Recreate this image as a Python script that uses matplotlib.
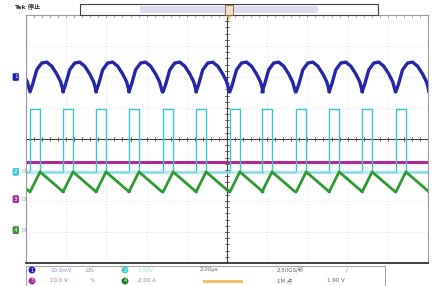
import numpy as np
import matplotlib
matplotlib.use("Agg")
import matplotlib.pyplot as plt
from matplotlib.patches import Rectangle

plt.rcParams['font.family'] = ['DejaVu Sans', 'Noto Sans CJK SC']

# values, in divisions (10 x 8 grid, 0 = centre line)
edges = [-0.73, 0.10, 0.92, 1.74, 2.56, 3.41, 4.23, 5.07, 5.87, 6.72, 7.54, 8.36, 9.20, 10.02]
period = 0.83
pulse_w = 0.25
cyan_hi = 0.97
cyan_lo = -1.06

# one period of ch1 (blue) and ch4 (green), phase 0 = cyan rising edge
blue_phase = [0.0, 0.08, 0.2, 0.35, 0.5, 0.65, 0.8, 0.92, 1.0]
blue_level = [1.52, 1.77, 2.23, 2.45, 2.48, 2.35, 2.10, 1.84, 1.52]
green_phase = [0.0, 0.30, 1.0]
green_level = [-1.71, -1.06, -1.71]
magenta_level = -0.74

marker_y = {'1': 2.0, '2': -1.06, '3': -1.94, '4': -2.94}
marker_col = {'1': '#2020b0', '2': '#40c8d8', '3': '#a03090', '4': '#3a8a3a'}

W, H = 438, 286
fig = plt.figure(figsize=(W / 100, H / 100), dpi=100)
fig.patch.set_facecolor('white')

# main graticule
x0, x1, yt, yb = 26, 428, 15, 263
ax = fig.add_axes([x0 / W, 1 - yb / H, (x1 - x0) / W, (yb - yt) / H])
ax.set_xlim(0, 10)
ax.set_ylim(-4, 4)
ax.set_xticks([])
ax.set_yticks([])
for s in ax.spines.values():
    s.set_color('#9a9a9a')
    s.set_linewidth(0.8)
ax.spines['bottom'].set_color('#202020')
ax.spines['bottom'].set_linewidth(1.2)
for gx in range(1, 10):
    ax.axvline(gx, color='#c8c8c8', lw=0.5, ls=(0, (1, 3)))
for gy in range(-3, 4):
    ax.axhline(gy, color='#c8c8c8', lw=0.5, ls=(0, (1, 3)))
ax.axvline(5, color='#404040', lw=0.8)
ax.axhline(0, color='#404040', lw=0.8)
for t in np.arange(0, 10.01, 0.2):
    ax.plot([t, t], [-0.06, 0.06], color='#404040', lw=0.5)
    ax.plot([t, t], [3.94, 4.0], color='#808080', lw=0.5)
for t in np.arange(-4, 4.01, 0.2):
    ax.plot([4.95, 5.05], [t, t], color='#404040', lw=0.5)

# traces
bx, by, gx_, gy_, cx, cy = [], [], [], [], [], []
for e in edges:
    bx += [e + p * period for p in blue_phase]
    by += blue_level
    gx_ += [e + p * period for p in green_phase]
    gy_ += green_level
    cx += [e, e, e + pulse_w, e + pulse_w, e + period]
    cy += [cyan_lo, cyan_hi, cyan_hi, cyan_lo, cyan_lo]

ax.plot([0, 10], [magenta_level, magenta_level], color='#b02890', lw=2.2)
ax.plot(cx, cy, color='#38c4d4', lw=1.0)
ax.plot([0, 10], [cyan_lo, cyan_lo], color='#9adfe8', lw=2.5, alpha=0.6)
ax.plot(gx_, gy_, color='#2f9a34', lw=2.0)
ax.plot(bx, by, color='#2626a8', lw=2.4)

# channel ground markers on the left edge
for k, v in marker_y.items():
    yy = 1 - (139 - v * 31) / H
    fig.text(14 / W, yy, k, fontsize=4, color='white', ha='left', va='center',
             bbox=dict(boxstyle='round,pad=0.25', fc=marker_col[k], ec='none'))
    fig.text(22 / W, yy, 'Ch' if k != '1' else '', fontsize=3.5, color='#909090',
             va='center')

# top bar
fig.text(14 / W, 1 - 7 / H, 'Tek 停止', fontsize=4.5, color='#303030',
         va='center', weight='bold')
fig.patches.append(Rectangle((80 / W, 1 - 15 / H), 298 / W, 11 / H,
                             transform=fig.transFigure, fc='white', ec='#404040', lw=0.8))
fig.patches.append(Rectangle((140 / W, 1 - 13 / H), 178 / W, 7 / H,
                             transform=fig.transFigure, fc='#dcdcf0', ec='none'))
fig.patches.append(Rectangle((225 / W, 1 - 15 / H), 8 / W, 10 / H,
                             transform=fig.transFigure, fc='#f0e0c8', ec='#806040', lw=0.6))
fig.text(229 / W, 1 - 19 / H, 'T', fontsize=4, color='#e0a020', ha='center',
         va='center', weight='bold')

# bottom status bar
fig.patches.append(Rectangle((26 / W, 1 - 286 / H), 359 / W, 20 / H,
                             transform=fig.transFigure, fc='white', ec='#909090', lw=0.6))
items = [
    (32, 270, '1', '#2020c0'), (32, 281, '3', '#a02890'),
    (125, 270, '2', '#40d0c8'), (125, 281, '4', '#208020'),
    (340, 270, '', '#40d0c8'),
]
for px, py, lab, col in items:
    fig.text(px / W, 1 - py / H, lab, fontsize=3.5, color='white', ha='center',
             va='center', bbox=dict(boxstyle='circle,pad=0.2', fc=col, ec='none'))
texts = [
    (50, 270, '10.0mV', '#9090d8'), (86, 270, 'Ω%', '#9090b0'),
    (50, 281, '10.0 V', '#b070a8'), (90, 281, '%', '#9090b0'),
    (138, 270, '5.00V', '#90e0d8'), (138, 281, '2.00 A', '#60a060'),
    (200, 270, '2.00μs', '#606060'), (277, 270, '2.50GS/秒', '#606060'),
    (277, 281, '1M 点', '#606060'), (346, 270, '/', '#60a0a0'),
    (327, 281, '1.90 V', '#606060'),
]
for px, py, s, col in texts:
    fig.text(px / W, 1 - py / H, s, fontsize=4, color=col, va='center')
fig.patches.append(Rectangle((203 / W, 1 - 283 / H), 40 / W, 3 / H,
                             transform=fig.transFigure, fc='#f0c060', ec='none'))

fig.savefig('out.png', dpi=100)
